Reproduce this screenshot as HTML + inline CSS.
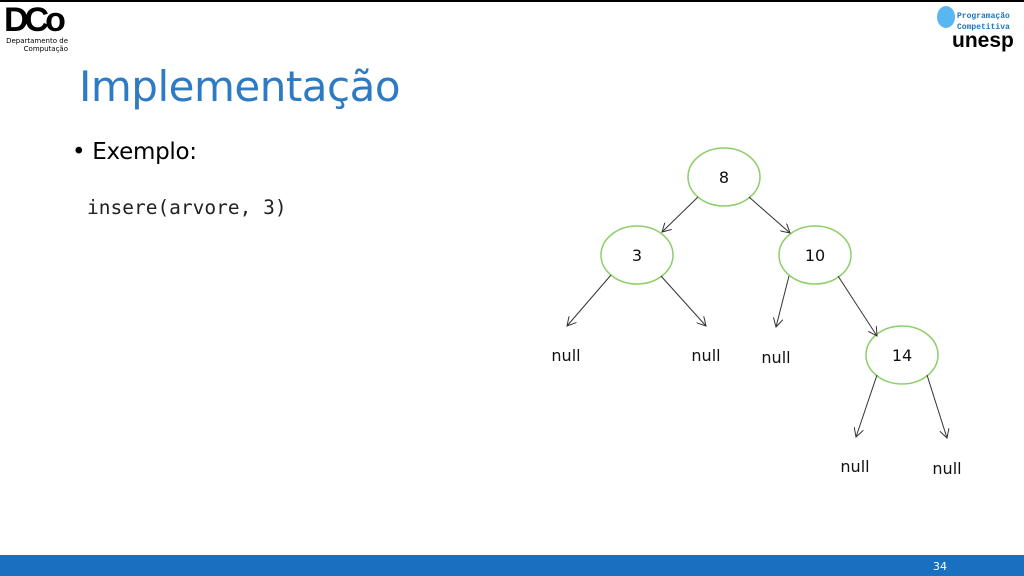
<!DOCTYPE html>
<html><head><meta charset="utf-8"><style>
body{margin:0;width:1024px;height:576px;overflow:hidden;background:#fff;position:relative;font-family:"DejaVu Sans","Liberation Sans",sans-serif}
.a{position:absolute}
</style></head><body>
<div class="a" style="left:0;top:0;width:1024px;height:2px;background:#000"></div>
<div class="a" style="left:4px;top:2px;font:bold 34px 'Liberation Sans',sans-serif;letter-spacing:-4px;color:#000;line-height:36px">DCo</div>
<div class="a" style="left:6px;top:37px;font-size:7px;line-height:8px;color:#000;text-align:right;width:62px">Departamento de<br>Computação</div>
<div class="a" style="left:937px;top:6px;width:18px;height:22px;border-radius:50%;background:#5ab6f0"></div>
<div class="a" style="left:957px;top:11px;font:bold 8px 'Liberation Mono',monospace;color:#1b75bb;line-height:11px">Programação<br>Competitiva</div>
<div class="a" style="left:952px;top:30px;font:bold 21px 'Liberation Sans',sans-serif;color:#000;line-height:22px">unesp</div>
<div class="a" style="left:79px;top:59px;font-size:42px;letter-spacing:-0.5px;color:#2e7bc4;line-height:56px">Implementação</div>
<div class="a" style="left:72px;top:137px;font-size:23px;letter-spacing:-0.3px;color:#000;line-height:30px">• Exemplo:</div>
<div class="a" style="left:87px;top:196px;font:19.5px 'DejaVu Sans Mono','Liberation Mono',monospace;color:#222;line-height:24px">insere(arvore, 3)</div>
<svg class="a" style="left:0;top:0" width="1024" height="576">
<defs><marker id="m" markerWidth="10" markerHeight="10" refX="9" refY="5" orient="auto" markerUnits="userSpaceOnUse"><path d="M0,0 L9,5 L0,10" fill="none" stroke="#333" stroke-width="1"/></marker></defs>
<g fill="#fff" stroke="#8ccf6a" stroke-width="1.5">
<ellipse cx="724" cy="177" rx="36" ry="29"/><ellipse cx="637" cy="255" rx="36" ry="29"/>
<ellipse cx="815" cy="255" rx="36" ry="29"/><ellipse cx="902" cy="355" rx="36" ry="29"/></g>
<g stroke="#333" stroke-width="1" marker-end="url(#m)">
<line x1="698" y1="197" x2="662" y2="232"/><line x1="749" y1="197" x2="790" y2="233"/>
<line x1="611" y1="275" x2="567" y2="326"/><line x1="661" y1="276" x2="706" y2="326"/>
<line x1="789" y1="276" x2="776" y2="327"/><line x1="838" y1="276" x2="877" y2="336"/>
<line x1="877" y1="375" x2="856" y2="437"/><line x1="927" y1="375" x2="947" y2="438"/></g>
<g font-family="DejaVu Sans,sans-serif" font-size="16" fill="#111" text-anchor="middle">
<text x="724" y="183">8</text><text x="637" y="261">3</text><text x="815" y="261">10</text><text x="902" y="361">14</text>
<text x="566" y="361">null</text><text x="706" y="361">null</text><text x="776" y="363">null</text><text x="855" y="472">null</text><text x="947" y="474">null</text></g>
</svg>
<div class="a" style="left:0;top:555px;width:1024px;height:21px;background:#1a70c0"></div>
<div class="a" style="left:933px;top:560px;font-size:11px;color:#fff">34</div>
</body></html>
